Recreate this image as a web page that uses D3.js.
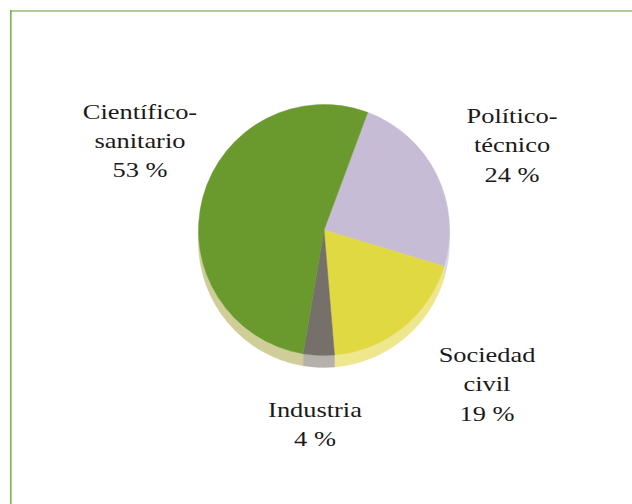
<!DOCTYPE html>
<html>
<head>
<meta charset="utf-8">
<script src="https://cdn.jsdelivr.net/npm/d3@7"></script>
</head>
<body style="margin:0;padding:0;background:#fff;">
<svg id="chart" width="632" height="504" style="display:block"></svg>
<script>
// Data
const categories = ["Político-técnico", "Sociedad civil", "Industria", "Científico-sanitario"];
const values = [24, 19, 4, 53];
const labelLines = [["Político-", "técnico", "24 %"], ["Sociedad", "civil", "19 %"], ["Industria", "4 %"], ["Científico-", "sanitario", "53 %"]];
const topColors = ["#c6bcd6", "#e1d941", "#757069", "#6a992e"];
const sideColors = ["#dcd6e6", "#eee78e", "#b4b1ab", "#cfcd98"];

// Layout
const W = 632, H = 504;
const cx = 324, cy = 230, r = 125.5, depth = 12;
const startDeg = 20.4;
const labelPos = [[512, 123], [487, 362], [315, 417], [140, 118.5]];
const lineH = 29.5;
const FONT = "'Liberation Serif', 'DejaVu Serif', serif";
const stretch = 1.2;

const svg = d3.select("#chart");

// frame
svg.append("line").attr("x1", 10).attr("x2", W).attr("y1", 11).attr("y2", 11)
  .attr("stroke", "#b3cc92").attr("stroke-width", 2);
svg.append("line").attr("x1", 10.8).attr("x2", 10.8).attr("y1", 10).attr("y2", H)
  .attr("stroke", "#78b446").attr("stroke-width", 1.6);

const start = startDeg * Math.PI / 180;
const pie = d3.pie().sort(null).value(d => d)
  .startAngle(start).endAngle(start + 2 * Math.PI);
const arcs = pie(values);

// side (extrusion) for bottom half only
const lo = Math.PI / 2, hi = 3 * Math.PI / 2;
const sides = svg.append("g");
arcs.forEach((a, i) => {
  const segs = [];
  [0, -2 * Math.PI, 2 * Math.PI].forEach(off => {
    const s = Math.max(a.startAngle + off, lo), e = Math.min(a.endAngle + off, hi);
    if (e > s) segs.push([s, e]);
  });
  segs.forEach(([s, e]) => {
    const p = d3.path();
    p.arc(cx, cy, r, s - Math.PI / 2, e - Math.PI / 2);
    p.arc(cx, cy + depth, r, e - Math.PI / 2, s - Math.PI / 2, true);
    p.closePath();
    sides.append("path").attr("d", p.toString()).attr("fill", sideColors[i])
      .attr("stroke", sideColors[i]).attr("stroke-width", 0.5);
  });
});

// top
const arc = d3.arc().innerRadius(0).outerRadius(r);
svg.append("g").attr("transform", `translate(${cx},${cy})`)
  .selectAll("path").data(arcs).join("path")
  .attr("d", arc).attr("fill", (d, i) => topColors[i])
  .attr("stroke", (d, i) => topColors[i]).attr("stroke-width", 0.5);

// labels
const lg = svg.append("g");
labelLines.forEach((lines, i) => {
  const g = lg.append("g").attr("transform", `translate(${labelPos[i][0]},${labelPos[i][1]}) scale(${stretch},1)`);
  const t = g.append("text").attr("text-anchor", "middle")
    .attr("font-family", FONT).attr("font-size", 22).attr("fill", "#1a1a1a");
  lines.forEach((ln, j) => {
    t.append("tspan").attr("x", 0).attr("y", j * lineH).text(ln);
  });
});
</script>
</body>
</html>
